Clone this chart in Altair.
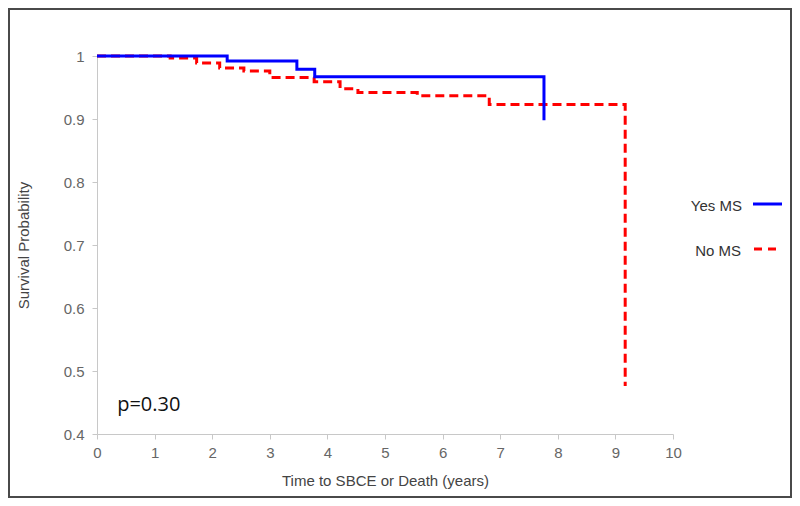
import altair as alt
import pandas as pd

# ---- data ----
yes_t = [0, 2.26, 3.47, 3.78, 7.76]
yes_s = [1.0, 0.992, 0.979, 0.967, 0.898]
no_t = [0, 1.27, 1.73, 2.13, 2.55, 3.0, 3.77, 4.22, 4.53, 5.56, 6.81, 9.17]
no_s = [1.0, 0.997, 0.989, 0.981, 0.976, 0.966, 0.959, 0.948, 0.942, 0.937, 0.923, 0.476]
series_names = ["Yes MS", "No MS"]
series_colors = ["#0000ff", "#ff0000"]
x_ticks = [0, 1, 2, 3, 4, 5, 6, 7, 8, 9, 10]
y_ticks = [0.4, 0.5, 0.6, 0.7, 0.8, 0.9, 1.0]
x_title = "Time to SBCE or Death (years)"
y_title = "Survival Probability"
p_label = ["p=0.30"]
p_pos_t = [0.35]
p_pos_s = [0.4365]

W, H = 576, 378
PAD = {"left": 89, "top": 48, "right": 119, "bottom": 64}

df_yes = pd.DataFrame({"t": yes_t, "s": yes_s})
df_no = pd.DataFrame({"t": no_t, "s": no_s})
df_p = pd.DataFrame({"t": p_pos_t, "s": p_pos_s, "label": p_label})

FONT = "Liberation Sans"
x_scale = alt.Scale(domain=[0, 10], nice=False, zero=False)
y_scale = alt.Scale(domain=[0.4, 1.0], nice=False, zero=False)

x_axis = alt.Axis(title=x_title, values=x_ticks, grid=False, labelFlush=False,
                  domainColor="#c8c8c8", tickColor="#c8c8c8", tickSize=5,
                  labelColor="#666666", labelFontSize=15, labelFont=FONT,
                  labelPadding=6, titleFont=FONT, titleFontSize=15,
                  titleColor="#444444", titleFontWeight="normal", titlePadding=13)
y_axis = alt.Axis(title=y_title, values=y_ticks, grid=False, format=".1~f",
                  labelFlush=False,
                  domainColor="#c8c8c8", tickColor="#c8c8c8", tickSize=5,
                  labelColor="#666666", labelFontSize=15, labelFont=FONT,
                  labelPadding=8, titleFont=FONT, titleFontSize=15,
                  titleColor="#444444", titleFontWeight="normal", titlePadding=32)

X = alt.X("t:Q", scale=x_scale, axis=x_axis)
Y = alt.Y("s:Q", scale=y_scale, axis=y_axis)

no_line = alt.Chart(df_no).mark_line(
    interpolate="step-after", color=series_colors[1], strokeWidth=3,
    strokeDash=[9, 5]
).encode(x=X, y=Y)

yes_line = alt.Chart(df_yes).mark_line(
    interpolate="step-after", color=series_colors[0], strokeWidth=3
).encode(x=X, y=Y)

p_text = alt.Chart(df_p).mark_text(
    align="left", baseline="alphabetic", font="Open Sans", fontSize=20,
    color="#111111"
).encode(x=X, y=Y, text="label:N")

# manual legend (labels left of the line samples, as in the reference)
leg_label_yes = alt.Chart(pd.DataFrame({"label": [series_names[0]]})).mark_text(
    align="right", baseline="alphabetic", font=FONT, fontSize=15, color="#333333"
).encode(x=alt.value(645), y=alt.value(155), text="label:N")
leg_label_no = alt.Chart(pd.DataFrame({"label": [series_names[1]]})).mark_text(
    align="right", baseline="alphabetic", font=FONT, fontSize=15, color="#333333"
).encode(x=alt.value(644), y=alt.value(200), text="label:N")
leg_line_yes = alt.Chart(pd.DataFrame({"label": [series_names[0]]})).mark_rule(
    color=series_colors[0], strokeWidth=3
).encode(x=alt.value(656), x2=alt.value(685), y=alt.value(148))
leg_line_no = alt.Chart(pd.DataFrame({"label": [series_names[1]]})).mark_rule(
    color=series_colors[1], strokeWidth=3, strokeDash=[8, 6]
).encode(x=alt.value(657), x2=alt.value(680), y=alt.value(193))

frame = alt.Chart(pd.DataFrame({"k": [0]})).mark_rect(
    fillOpacity=0, stroke="#4a4a4a", strokeWidth=2
).encode(x=alt.value(-88), x2=alt.value(694), y=alt.value(-47), y2=alt.value(441))

chart = alt.layer(
    no_line, yes_line, p_text, leg_label_yes, leg_label_no, leg_line_yes, leg_line_no, frame
).properties(
    width=W, height=H, padding=PAD, autosize=alt.AutoSizeParams(type="none"),
    background="white"
).configure_view(stroke=None)

chart.save("out.html", embed_options={"renderer": "svg", "actions": False})
